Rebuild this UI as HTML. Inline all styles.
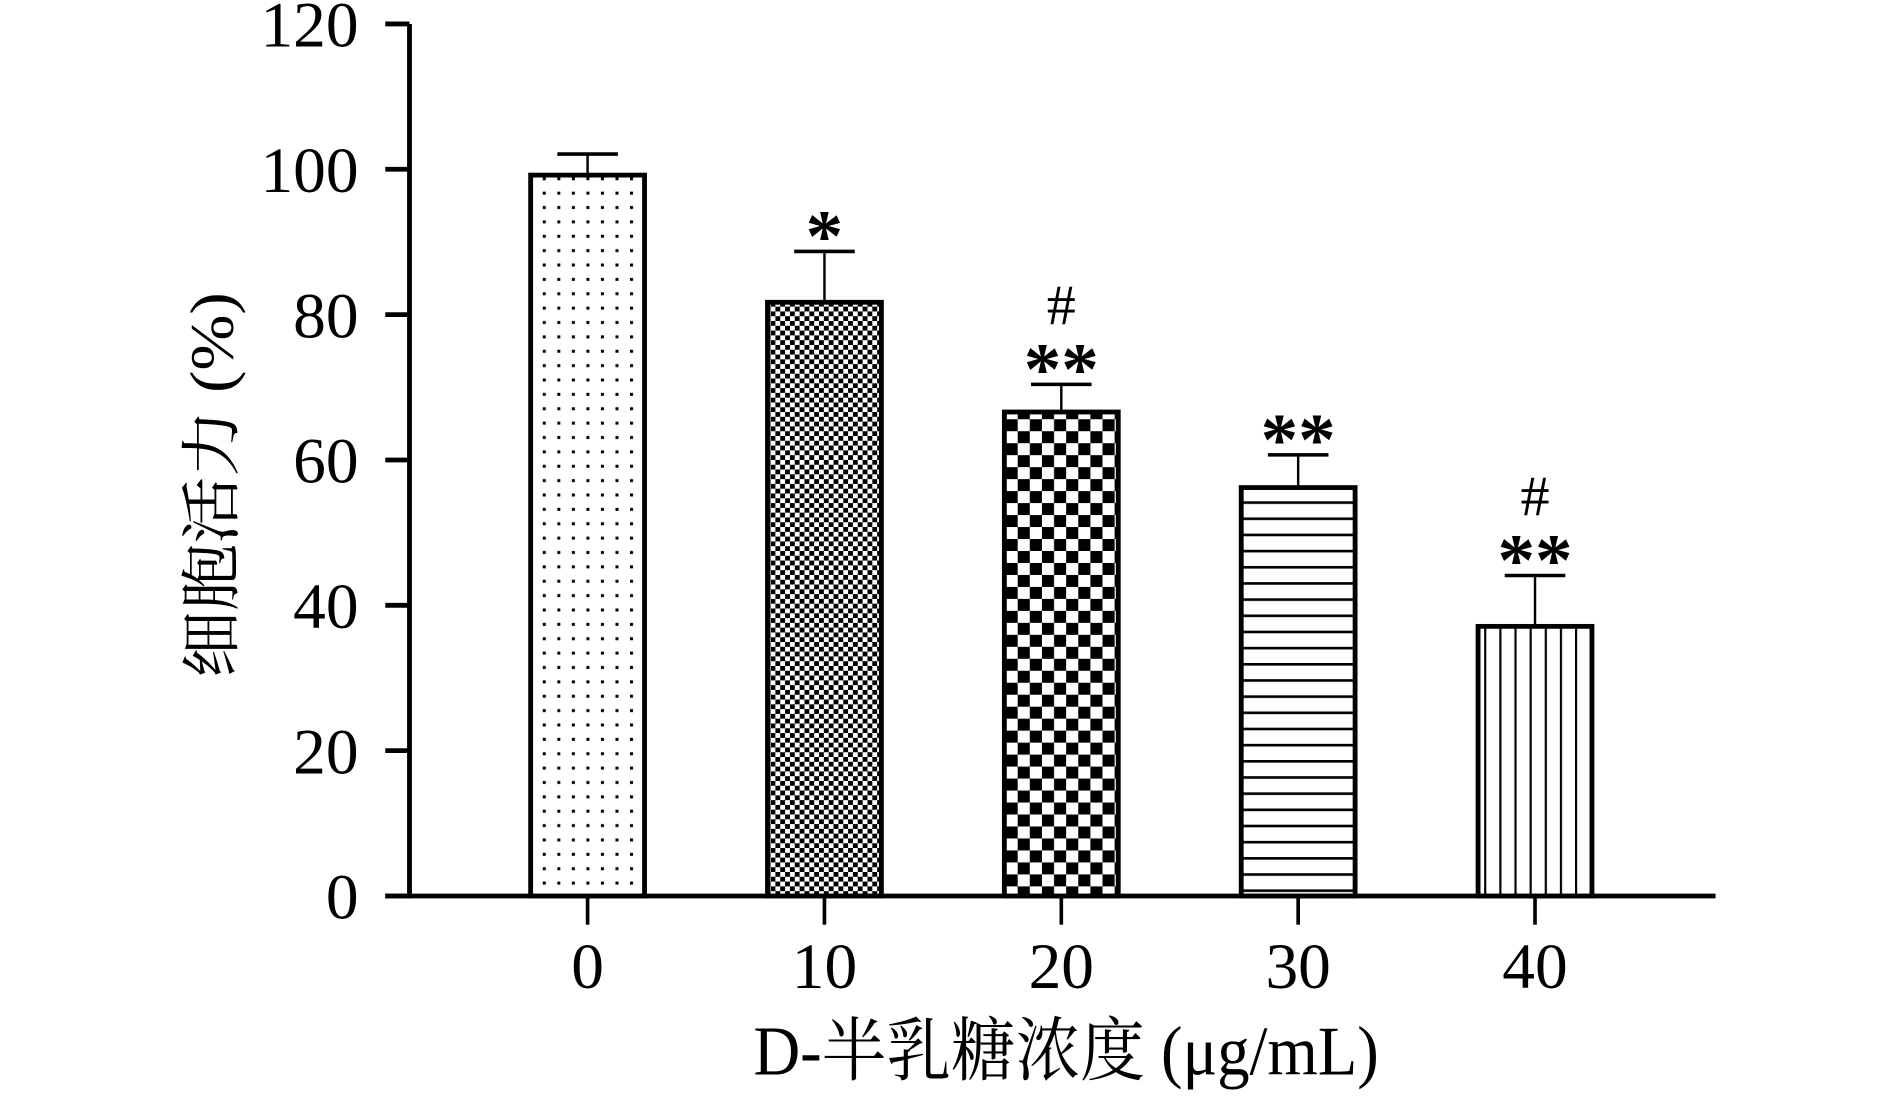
<!DOCTYPE html>
<html><head><meta charset="utf-8"><style>
html,body{margin:0;padding:0;background:#fff;}
svg{display:block;}
text{font-family:"Liberation Serif","Noto Serif CJK SC",serif;fill:#000;}
</style></head><body>
<svg id="chart" width="1890" height="1096" viewBox="0 0 1560 915" preserveAspectRatio="none" xmlns="http://www.w3.org/2000/svg">
<defs>
<pattern id="p0" width="12" height="12" patternUnits="userSpaceOnUse"><rect width="12" height="12" fill="#fff"/><rect x="4" y="4" width="2.5" height="2.5" fill="#000"/></pattern>
<pattern id="p1" width="8" height="8" patternUnits="userSpaceOnUse"><rect width="8" height="8" fill="#fff"/><rect width="4" height="4" fill="#000"/><rect x="4" y="4" width="4" height="4" fill="#000"/></pattern>
<pattern id="p2" width="20" height="20" patternUnits="userSpaceOnUse"><rect width="20" height="20" fill="#fff"/><rect width="10" height="10" fill="#000"/><rect x="10" y="10" width="10" height="10" fill="#000"/></pattern>
<pattern id="p3" width="10" height="13.5" patternUnits="userSpaceOnUse"><rect width="10" height="13.5" fill="#fff"/><rect y="0" width="10" height="2.2" fill="#000"/></pattern>
<pattern id="p4" width="12.5" height="10" patternUnits="userSpaceOnUse"><rect width="12.5" height="10" fill="#fff"/><rect x="0" width="1.8" height="10" fill="#000"/></pattern>
</defs>
<g id="plot"></g>
<text transform="translate(192,405) rotate(-90) scale(1,0.9)" text-anchor="middle" font-size="56">细胞活力 (%)</text>
<text transform="translate(880,897) scale(0.92,1)" text-anchor="middle" font-size="58">D-半乳糖浓度 (μg/mL)</text>
</svg>
<script>
const categories = ["0","10","20","30","40"];
const means = [99.2, 81.7, 66.6, 56.2, 37.1];
const errors = [2.9, 7.0, 3.8, 4.5, 7.0];
const marks = ["", "*", "**", "**", "**"];
const hashes = ["", "", "#", "", "#"];
const yTicks = [0, 20, 40, 60, 80, 100, 120];

const NS = "http://www.w3.org/2000/svg";
const g = document.getElementById("plot");
const y0 = 748, yTop = 20, yMax = 120;
const yScale = v => y0 - (v / yMax) * (y0 - yTop);
const xStart = 485, xStep = 195.5;
const xScale = i => xStart + i * xStep;
const barW = 94;
function mk(tag, attrs) {
  const e = document.createElementNS(NS, tag);
  for (const k in attrs) e.setAttribute(k, attrs[k]);
  g.appendChild(e);
  return e;
}
let ax = mk("line", {x1: 338, y1: yTop, x2: 338, y2: y0 + 2, stroke: "#000", "stroke-width": 4});


let xa = mk("line", {x1: 318, y1: y0, x2: 1416, y2: y0, stroke: "#000", "stroke-width": 4});


yTicks.forEach(v => {
  const y = yScale(v);
  const t = mk("line", {x1: 318, y1: y, x2: 338, y2: y, stroke: "#000", "stroke-width": 4});
  
  
  const l = mk("text", {x: 296, y: y + 19, "text-anchor": "end", "font-size": 54});
  l.textContent = v;
  
  
});
categories.forEach((c, i) => {
  const x = xScale(i);
  const top = yScale(means[i]);
  const t = mk("line", {x1: x, y1: y0, x2: x, y2: y0 + 24, stroke: "#000", "stroke-width": 3});
  
  
  const l = mk("text", {x: x, y: 825, "text-anchor": "middle", "font-size": 54});
  l.textContent = c;
  
  
  const eTop = yScale(means[i] + errors[i]);
  const ev = mk("line", {x1: x, y1: eTop, x2: x, y2: top, stroke: "#000", "stroke-width": 2});
  
  
  const ec = mk("line", {x1: x - 25, y1: eTop, x2: x + 25, y2: eTop, stroke: "#000", "stroke-width": 3});
  
  
  const b = mk("rect", {x: x - barW / 2, y: top, width: barW, height: y0 - top, fill: "url(#p" + i + ")", stroke: "#000", "stroke-width": 4});
  
  
  if (marks[i]) {
    const s = mk("text", {x: x, y: eTop + 8, "text-anchor": "middle", "font-size": 62, "font-weight": "bold"});
    s.textContent = marks[i];
    
    
  }
  if (hashes[i]) {
    const h = mk("text", {x: x, y: eTop - 50, "text-anchor": "middle", "font-size": 48});
    h.textContent = hashes[i];
    
    
  }
});
</script>
</body></html>
